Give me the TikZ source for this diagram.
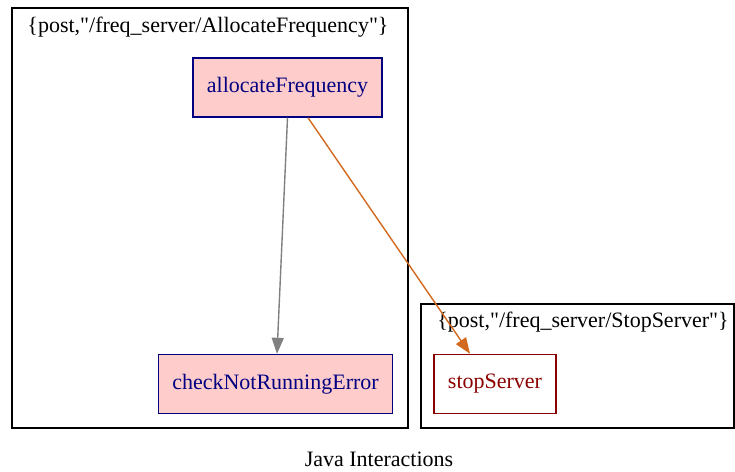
\documentclass[tikz,border=0pt]{standalone}
\usepackage{fontspec}
\setmainfont{Liberation Serif}[Ligatures=TeXOff]
\usetikzlibrary{arrows.meta}

\definecolor{methodfill}{HTML}{FFCCCC}
\definecolor{methodline}{HTML}{000080}
\definecolor{stopline}{HTML}{8B0000}
\definecolor{callorange}{HTML}{D2691E}

\tikzset{
    cluster/.style={draw=black, line width=1.4pt},
    method/.style={draw=methodline, line width=1.4pt, fill=methodfill,
        text=methodline, inner xsep=14pt, minimum height=59pt},
    remote/.style={draw=stopline, line width=1.4pt, fill=white,
        text=stopline, minimum width=122pt, minimum height=59pt},
    localcall/.style={draw=gray, line width=1.4pt,
        -{Triangle[length=16pt,width=12pt]}},
    remotecall/.style={draw=callorange, line width=1.4pt,
        -{Triangle[length=16pt,width=12pt]}}
}

\begin{document}
\begin{tikzpicture}[x=1pt, y=-1pt, font=\fontsize{22}{26}\selectfont]
    \useasboundingbox (0,0) rectangle (735,471);
    % clusters
    \draw[cluster]
        (12,8) rectangle (408,428);
    \draw[cluster]
        (421,304) rectangle (734,428);
    \node (alloctitle) at (208,27) {\{post,"/freq\_server/AllocateFrequency"\}};
    \node (stoptitle) at (583,322) {\{post,"/freq\_server/StopServer"\}};
    % methods
    \node[method] (alloc) at (287.5,87.5) {allocateFrequency};
    \node[method] (check) at (275.5,384) {checkNotRunningError};
    \node[remote] (stop) at (495,384) {stopServer};
    % calls
    \draw[localcall]
        (alloc.south) -- ([xshift=1.5pt]check.north);
    \draw[remotecall]
        ([xshift=20.5pt]alloc.south) -- ([xshift=-25pt]stop.north);
    \node (caption) at (379,459) {Java Interactions};
\end{tikzpicture}
\end{document}
